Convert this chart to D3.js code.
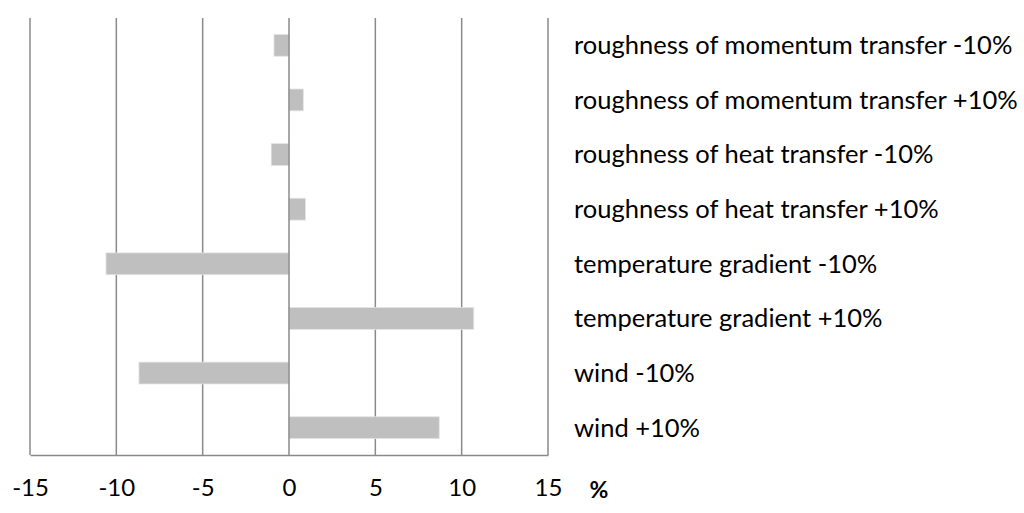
<!DOCTYPE html>
<html>
<head>
<meta charset="utf-8">
<script src="https://cdn.jsdelivr.net/npm/d3@7"></script>
<style>
  html, body { margin: 0; padding: 0; background: #fff; }
  svg { display: block; }
  text { font-family: Lato, "Open Sans", sans-serif; fill: #000; }
</style>
</head>
<body>
<svg id="chart" width="1024" height="513"></svg>
<script>
const categories = [
  "roughness of momentum transfer -10%",
  "roughness of momentum transfer +10%",
  "roughness of heat transfer -10%",
  "roughness of heat transfer +10%",
  "temperature gradient -10%",
  "temperature gradient +10%",
  "wind -10%",
  "wind +10%"
];
const values = [-0.87, 0.83, -1.03, 0.96, -10.6, 10.7, -8.69, 8.7];
const tickValues = [-15, -10, -5, 0, 5, 10, 15];
const axisUnit = "%";

const svg = d3.select("#chart");
const plot = { left: 30, right: 548, top: 18, bottom: 455 };

const x = d3.scaleLinear().domain([-15, 15]).range([plot.left, plot.right]);
const y = d3.scaleBand().domain(categories).range([plot.top, plot.bottom]).paddingInner(0.6).paddingOuter(0.3);

const gridColor = "#8a8a8a";

svg.append("g").selectAll("line").data(tickValues.filter(v => v !== 0)).join("line")
  .attr("x1", d => x(d)).attr("x2", d => x(d))
  .attr("y1", plot.top).attr("y2", plot.bottom)
  .attr("stroke", gridColor).attr("stroke-width", 1.5);

svg.append("g").selectAll("rect").data(values).join("rect")
  .attr("x", d => Math.min(x(0), x(d)))
  .attr("width", d => Math.abs(x(d) - x(0)))
  .attr("y", (d, i) => y(categories[i]))
  .attr("height", y.bandwidth())
  .attr("fill", "#bfbfbf")
  .attr("stroke", "#e4e4e4").attr("stroke-width", 0.8);

svg.append("line")
  .attr("x1", x(0)).attr("x2", x(0)).attr("y1", plot.top).attr("y2", plot.bottom)
  .attr("stroke", gridColor).attr("stroke-width", 1.5);

const axis = d3.axisBottom(x).tickValues(tickValues).tickSize(0).tickPadding(24).tickFormat(d3.format("d"));
const gAxis = svg.append("g").attr("transform", `translate(0,${plot.bottom})`).call(axis);
gAxis.select(".domain").attr("stroke", gridColor).attr("stroke-width", 1.5);
gAxis.selectAll("text").attr("font-size", 24).attr("font-family", "Lato, sans-serif").attr("fill", "#000")
  .text(d => d < 0 ? "-" + Math.abs(d) : d);

svg.append("text").attr("x", 599).attr("y", 498).attr("text-anchor", "middle")
  .attr("font-size", 23).attr("font-weight", "bold").text(axisUnit);

const labels = svg.append("g").selectAll("text").data(categories).join("text")
  .attr("x", 574)
  .attr("y", d => y(d) + y.bandwidth() / 2)
  .attr("dy", "0.35em")
  .attr("font-size", 21)
  .text(d => d);

const longest = labels.filter((d, i) => i === 1).node();
const w = longest.getComputedTextLength();
const fs = 21 * 444 / w;
labels.attr("font-size", fs);
</script>
</body>
</html>
